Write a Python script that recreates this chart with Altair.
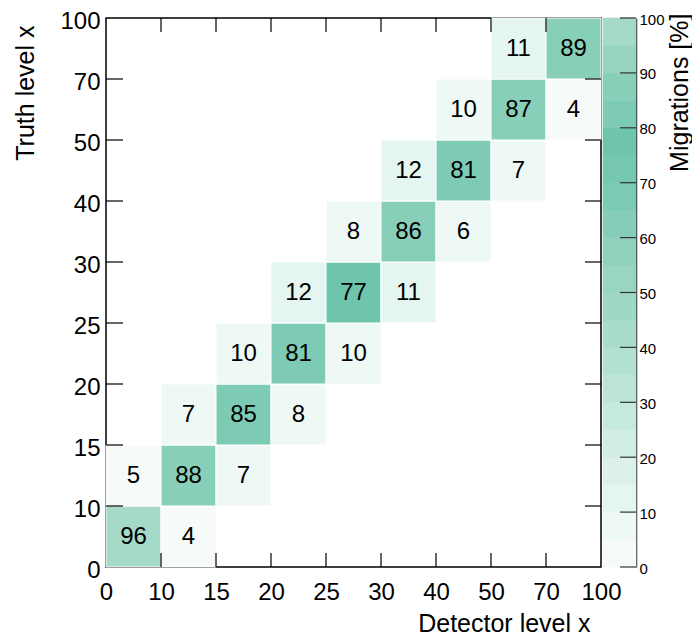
import altair as alt
import pandas as pd

# bin edges (labels) shared by both axes
edge_labels = ["0", "10", "15", "20", "25", "30", "40", "50", "70", "100"]

# migration matrix cells: detector bin, truth bin, migration [%]
det_bin = [0, 1, 0, 1, 2, 1, 2, 3, 2, 3, 4, 3, 4, 5, 4, 5, 6, 5, 6, 7, 6, 7, 8, 7, 8]
truth_bin = [0, 0, 1, 1, 1, 2, 2, 2, 3, 3, 3, 4, 4, 4, 5, 5, 5, 6, 6, 6, 7, 7, 7, 8, 8]
migration = [96, 4, 4.7, 88, 7, 7, 84.6, 8, 9.6, 81, 9.6, 12, 77, 11, 8, 86, 6,
             12, 81, 7, 9.6, 87, 4, 11, 89]

# colour palette levels (20 contour levels of 5 %)
level_edges = list(range(0, 100, 5))
level_colors = ["#f6fbfa", "#eef8f5", "#e5f5f0", "#dbf1ea", "#d1ede4",
                "#c6e9dd", "#bde5d7", "#b2e0d1", "#a9dccb", "#a0d8c7",
                "#98d5c2", "#8fd1bc", "#85cdb8", "#7bcab3", "#75c7af",
                "#6fc5ac", "#7dcbb4", "#88cfba", "#97d4c1", "#a5d9c8"]
cbar_ticks = [0, 10, 20, 30, 40, 50, 60, 70, 80, 90, 100]

W, H = 495, 549
FONT = "Liberation Sans"

cells = pd.DataFrame({"x0": det_bin, "y0": truth_bin, "val": migration})
cells["x1"] = cells["x0"] + 1
cells["y1"] = cells["y0"] + 1
cells["xc"] = cells["x0"] + 0.5
cells["yc"] = cells["y0"] + 0.5

edges = pd.DataFrame({"e": list(range(1, len(edge_labels) - 1))})
cbar = pd.DataFrame({"lo": level_edges})
cbar["hi"] = cbar["lo"] + 5
cbar["val"] = cbar["lo"] + 2.5
cticks = pd.DataFrame({"t": cbar_ticks})

label_expr = "[" + ",".join("'%s'" % s for s in edge_labels) + "][datum.value]"

cs = alt.Scale(type="threshold", domain=level_edges[1:], range=level_colors)
color = alt.Color("val:Q", legend=None, scale=cs)
stroke = alt.Stroke("val:Q", legend=None, scale=cs)

xscale = alt.Scale(domain=[0, 9], nice=False, zero=False)
yscale = alt.Scale(domain=[0, 9], nice=False, zero=False)
cscale = alt.Scale(domain=[0, 100], nice=False, zero=False)

xaxis = alt.Axis(orient="bottom", values=list(range(10)), labelExpr=label_expr, domain=False,
                 ticks=False, grid=False, labelFlush=False, labelAlign="center",
                 labelPadding=13, labelFontSize=24,
                 labelColor="black", labelFont=FONT, title="Detector level x", titleFont=FONT,
                 titleFontSize=25, titleFontWeight="normal", titleColor="black",
                 titleAlign="right", titleBaseline="alphabetic", titleX=484, titleY=64)
yaxis = alt.Axis(orient="left", values=list(range(10)), labelExpr=label_expr, domain=False,
                 ticks=False, grid=False, labelFlush=False, labelPadding=6, labelOffset=3,
                 labelFontSize=24, labelBaseline="middle",
                 labelColor="black", labelFont=FONT, title="Truth level x", titleFont=FONT,
                 titleFontSize=25, titleFontWeight="normal", titleColor="black",
                 titleAngle=270, titleAlign="right", titleBaseline="alphabetic",
                 titleX=-73, titleY=7)
caxis = alt.Axis(orient="right", offset=35, values=cbar_ticks, domain=True, domainColor="#333",
                 domainWidth=1.5, ticks=False, grid=False, labelFlush=False, labelPadding=3,
                 labelFontSize=15, labelFont=FONT, labelColor="black", labelOffset=1,
                 labelBaseline="middle",
                 title="Migrations [%]", titleFont=FONT, titleFontSize=25,
                 titleFontWeight="normal", titleColor="black", titleAngle=270,
                 titleAlign="right", titleBaseline="alphabetic", titleX=51, titleY=-5)

rects = alt.Chart(cells).mark_rect(stroke="white", strokeWidth=1).encode(
    x=alt.X("x0:Q", scale=xscale, axis=xaxis),
    x2="x1:Q",
    y=alt.Y("y0:Q", scale=yscale, axis=yaxis),
    y2="y1:Q",
    color=color,
)

texts = alt.Chart(cells).mark_text(font=FONT, fontSize=24, color="black",
                                   baseline="middle", align="center").encode(
    x=alt.X("xc:Q", scale=xscale, axis=xaxis),
    y=alt.Y("yc:Q", scale=yscale, axis=None),
    text=alt.Text("val:Q", format=".0f"),
)

tick_style = dict(color="black", strokeWidth=1.2)
t_bottom = alt.Chart(edges).mark_rule(**tick_style).encode(
    x=alt.X("e:Q", scale=xscale, axis=xaxis), y=alt.value(H), y2=alt.value(H - 14))
t_top = alt.Chart(edges).mark_rule(**tick_style).encode(
    x=alt.X("e:Q", scale=xscale, axis=xaxis), y=alt.value(0), y2=alt.value(14))
t_left = alt.Chart(edges).mark_rule(**tick_style).encode(
    y=alt.Y("e:Q", scale=yscale, axis=None), x=alt.value(0), x2=alt.value(17))
t_right = alt.Chart(edges).mark_rule(**tick_style).encode(
    y=alt.Y("e:Q", scale=yscale, axis=None), x=alt.value(W), x2=alt.value(W - 16))

cb_rect = alt.Chart(cbar).mark_rect(strokeWidth=0.6).encode(
    y=alt.Y("lo:Q", scale=cscale, axis=caxis),
    y2="hi:Q",
    x=alt.value(W + 2), x2=alt.value(W + 35),
    color=color,
    stroke=stroke,
)
cb_ticks = alt.Chart(cticks).mark_rule(color="#333", strokeWidth=1.2).encode(
    y=alt.Y("t:Q", scale=cscale, axis=None),
    x=alt.value(W + 19), x2=alt.value(W + 35),
)

chart = alt.layer(rects, texts, t_bottom, t_top, t_left, t_right, cb_rect, cb_ticks
).resolve_scale(y="independent").resolve_axis(y="independent").properties(
    width=W, height=H,
    background="white",
    autosize=alt.AutoSizeParams(type="none"),
    padding={"left": 98, "top": 10, "right": 91, "bottom": 72},
).configure_view(stroke="black", strokeWidth=1.5)

chart.save("out.html", embed_options={"renderer": "svg", "actions": False})
